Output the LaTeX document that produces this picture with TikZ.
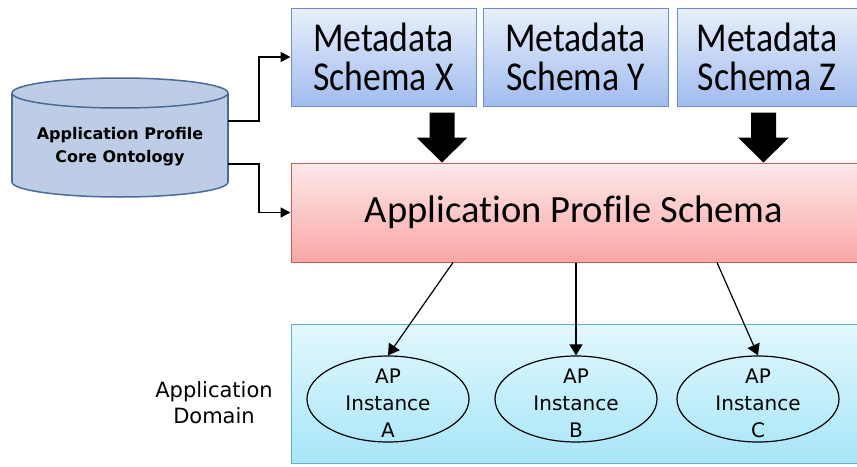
\documentclass[tikz,border=0pt]{standalone}
\usepackage{fontspec}
\setmainfont{Carlito}[Ligatures=NoCommon]
\newfontfamily\metafont{Carlito}[FakeStretch=0.87,Ligatures=NoCommon]
\newfontfamily\tahfont{DejaVu Sans}
\usetikzlibrary{arrows.meta,calc,shapes.geometric}
\definecolor{metatop}{HTML}{E8EFFB}
\definecolor{metabot}{HTML}{A0BCEE}
\definecolor{metadraw}{HTML}{6D8ED0}
\definecolor{pinktop}{HTML}{FDE9E9}
\definecolor{pinkbot}{HTML}{FAA6A6}
\definecolor{pinkdraw}{HTML}{C85A5A}
\definecolor{cyantop}{HTML}{E2F8FE}
\definecolor{cyanbot}{HTML}{A6E6F8}
\definecolor{cyandraw}{HTML}{5AB4CC}
\definecolor{cylfill}{HTML}{BCCDE5}
\definecolor{cyldraw}{HTML}{4A6A9A}
\begin{document}
\begin{tikzpicture}[x=1pt,y=-1pt,
  metabox/.style={draw=metadraw, line width=1pt, top color=metatop, bottom color=metabot,
    minimum height=98pt, inner sep=0pt, align=center,
    font=\metafont\fontsize{41}{39}\selectfont},
  pinkbox/.style={draw=pinkdraw, line width=1pt, top color=pinktop, bottom color=pinkbot,
    minimum width=566pt, minimum height=99pt, inner sep=0pt,
    font=\fontsize{38.5}{40}\selectfont},
  cyanbox/.style={draw=cyandraw, line width=1pt, top color=cyantop, bottom color=cyanbot,
    minimum width=566pt, minimum height=139pt, inner sep=0pt},
  inst/.style={ellipse, draw=black, line width=1.2pt, minimum width=162pt, minimum height=86pt,
    inner xsep=0pt, inner ysep=-10pt, align=center,
    font=\tahfont\fontsize{20}{27}\selectfont},
  cylline/.style={draw=cyldraw, line width=1.5pt},
  conn/.style={line width=1.5pt, -{Triangle[length=10pt,width=10pt]}},
  conntwo/.style={line width=1.2pt, -{Triangle[length=11pt,width=13pt]}},
  bigarrow/.style={fill=black}
]
\useasboundingbox (0,0) rectangle (857,466);

% cylinder
\draw[cylline, fill=cylfill] (120,182) ellipse [x radius=108pt, y radius=15pt];
\fill[cylfill] (12,93) rectangle (228,182);
\draw[cylline] (12,93) -- (12,182) (228,93) -- (228,182);
\draw[cylline, fill=cylfill] (120,93) ellipse [x radius=108pt, y radius=15pt];
\node[font=\tahfont\bfseries\fontsize{16}{23}\selectfont, align=center,
      minimum width=216pt, inner sep=0pt] (onto) at (120,147)
      {Application Profile\\Core Ontology};

% metadata schemas
\node[metabox, minimum width=185pt] (X) at (383.5,57) {Metadata\\Schema X};
\node[metabox, minimum width=185pt] (Y) at (575.5,57) {Metadata\\Schema Y};
\node[metabox, minimum width=180pt] (Z) at (767,57) {Metadata\\Schema Z};

% application profile schema
\node[pinkbox] (APS) at (574,212.5) {Application Profile Schema};

% application domain
\node[cyanbox] (dom) at (574,393.5) {};
\node[font=\tahfont\fontsize{21}{26}\selectfont, align=center] (lbl) at (214,403)
  {Application\\Domain};
\node[inst] (A) at (388,399) {\rule{0pt}{23pt}AP\\Instance\\A};
\node[inst] (B) at (576,399) {\rule{0pt}{23pt}AP\\Instance\\B};
\node[inst] (C) at (758,399) {\rule{0pt}{23pt}AP\\Instance\\C};

% connectors from ontology
\draw[conn] ([yshift=26pt]onto.east) -- ++(31,0) |- (X.west);
\draw[conn] ([yshift=-17pt]onto.east) -- ++(31,0) |- (APS.west);

% block arrows
\coordinate (xa) at ($(X.south)+(58.5,6)$);
\coordinate (za) at ($(Z.south)+(-3.5,6)$);
\fill[bigarrow] ($(xa)+(-12.5,0)$) -- ($(xa)+(12.5,0)$) -- ($(xa)+(12.5,25)$)
  -- ($(xa)+(25.5,25)$) -- (xa |- APS.north) -- ($(xa)+(-25.5,25)$)
  -- ($(xa)+(-12.5,25)$) -- cycle;
\fill[bigarrow] ($(za)+(-12.5,0)$) -- ($(za)+(12.5,0)$) -- ($(za)+(12.5,25)$)
  -- ($(za)+(25.5,25)$) -- (za |- APS.north) -- ($(za)+(-25.5,25)$)
  -- ($(za)+(-12.5,25)$) -- cycle;

% schema to instances
\draw[conntwo] ($(APS.south)+(-121,0)$) -- (A.north);
\draw[conntwo] ($(APS.south)+(2,0)$) -- (B.north);
\draw[conntwo] ($(APS.south)+(143,0)$) -- (C.north);
\end{tikzpicture}
\end{document}
